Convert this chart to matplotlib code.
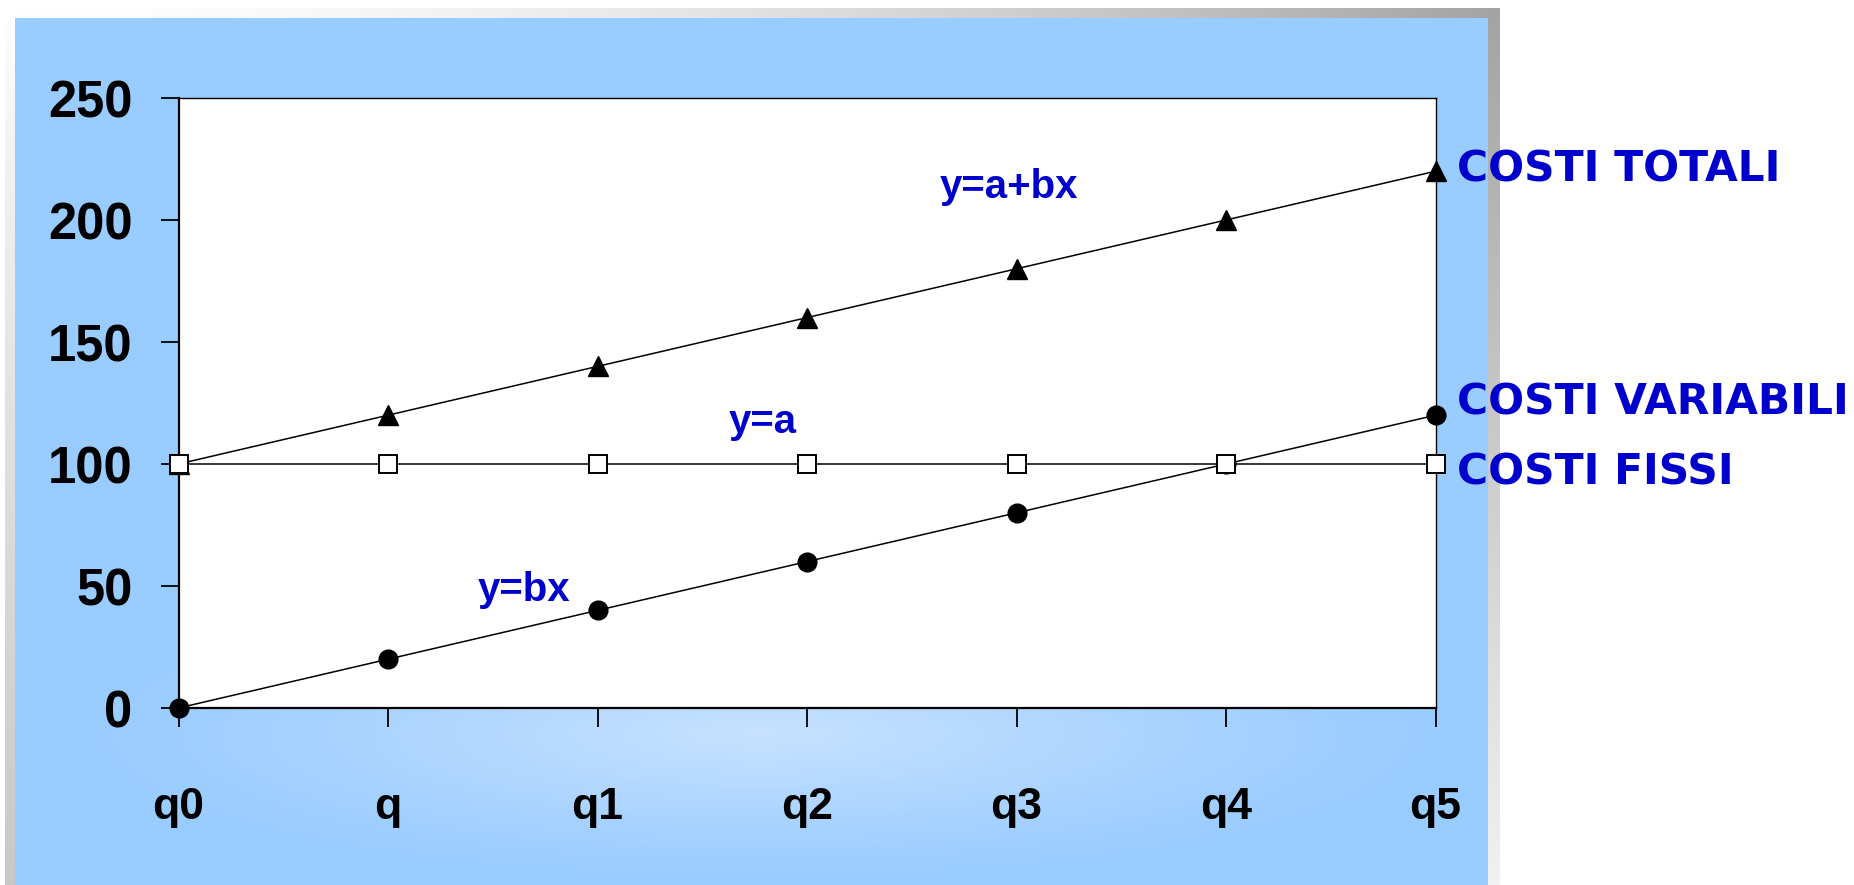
import numpy as np
import matplotlib.pyplot as plt

# quantities on the x axis
categorie = ["q0", "q", "q1", "q2", "q3", "q4", "q5"]

# cost series
costi_totali = [100, 120, 140, 160, 180, 200, 220]
costi_variabili = [0, 20, 40, 60, 80, 100, 120]
costi_fissi = [100, 100, 100, 100, 100, 100, 100]

y_ticks = [0, 50, 100, 150, 200, 250]

W, H = 1854, 885
BLU = "#0000CC"

fig = plt.figure(figsize=(W / 100, H / 100), dpi=100)


def striscia(ax, valori, extent):
    """Strip of grey shading: 0 = white, 1 = darkest grey."""
    v = np.asarray(valori)
    g = 1 - 0.36 * v
    rgb = np.stack([g, g, g], axis=-1)
    ax.imshow(rgb, extent=extent, aspect="auto", interpolation="bilinear")


# ---- sfondo: pannello azzurro con ombra ----
bg = fig.add_axes([0, 0, 1, 1], zorder=-1)
bg.set_xlim(0, W)
bg.set_ylim(H, 0)
bg.axis("off")

t = np.linspace(0, 1, 256)
striscia(bg, (t ** 1.6)[None, :], (15, 1500, 18, 8))
striscia(bg, np.linspace(1, 0.15, 256)[:, None], (1488, 1500, 885, 8))
striscia(bg, (t ** 0.8)[:, None] * 0.6, (5, 15, 885, 18))

# pannello azzurro con schiarita sotto l'asse x
xx, yy = np.meshgrid(np.linspace(15, 1488, 400), np.linspace(18, 885, 250))
d = np.sqrt(((xx - 760) / 700) ** 2 + ((yy - 735) / 150) ** 2)
w = np.clip(1 - d, 0, 1) ** 1.2
base = np.array([153, 204, 255]) / 255
chiaro = np.array([200, 226, 255]) / 255
img = base[None, None, :] * (1 - w[..., None]) + chiaro[None, None, :] * w[..., None]
bg.imshow(img, extent=(15, 1488, 885, 18), aspect="auto", interpolation="bilinear")

# ---- grafico ----
ax = fig.add_axes([178.5 / W, 1 - 708 / H, (1435.5 - 178.5) / W, (708 - 98) / H])
ax.set_facecolor("white")
x = np.arange(len(categorie))

ax.plot(x, costi_totali, color="black", lw=1.1, marker="^", ms=15,
        mfc="black", mec="black", clip_on=False, zorder=3)
ax.plot(x, costi_variabili, color="black", lw=1.1, marker="o", ms=13.5,
        mfc="black", mec="black", clip_on=False, zorder=4)
ax.plot(x, costi_fissi, color="black", lw=1.1, marker="s", ms=12.5,
        mfc="white", mec="black", mew=1.4, clip_on=False, zorder=5)

ax.set_xlim(0, len(categorie) - 1)
ax.set_ylim(0, 250)
ax.set_xticks(x)
ax.set_xticklabels(categorie)
ax.set_yticks(y_ticks)

for s in ["left", "bottom"]:
    ax.spines[s].set_linewidth(1.6)
for s in ["top", "right"]:
    ax.spines[s].set_linewidth(1.0)

ax.tick_params(axis="y", direction="out", length=13, width=1.3, pad=20)
ax.tick_params(axis="x", direction="out", length=13.5, width=1.3, pad=43.5)
for lab in ax.get_yticklabels():
    lab.set_fontfamily("Liberation Sans")
    lab.set_fontweight("bold")
    lab.set_fontsize(36.5)
for lab in ax.get_xticklabels():
    lab.set_fontfamily("Liberation Sans")
    lab.set_fontweight("bold")
    lab.set_fontsize(32)

# etichette delle funzioni
testo = dict(color=BLU, fontsize=29, fontweight="bold", family="Liberation Sans",
             ha="center", va="center")
ax.text(3.964, 213.5, "y=a+bx", **testo)
ax.text(2.79, 117.2, "y=a", **testo)
ax.text(1.649, 48.4, "y=bx", **testo)

# nomi delle curve a destra
nomi = dict(color=BLU, fontsize=30.5, fontweight="bold", family="DejaVu Sans",
            ha="left", va="center", clip_on=False)
ax.text(6.103, 220.9, "COSTI TOTALI", **nomi)
ax.text(6.103, 125.4, "COSTI VARIABILI", **nomi)
ax.text(6.103, 96.7, "COSTI FISSI", **nomi)

fig.savefig("out.png", dpi=100)
